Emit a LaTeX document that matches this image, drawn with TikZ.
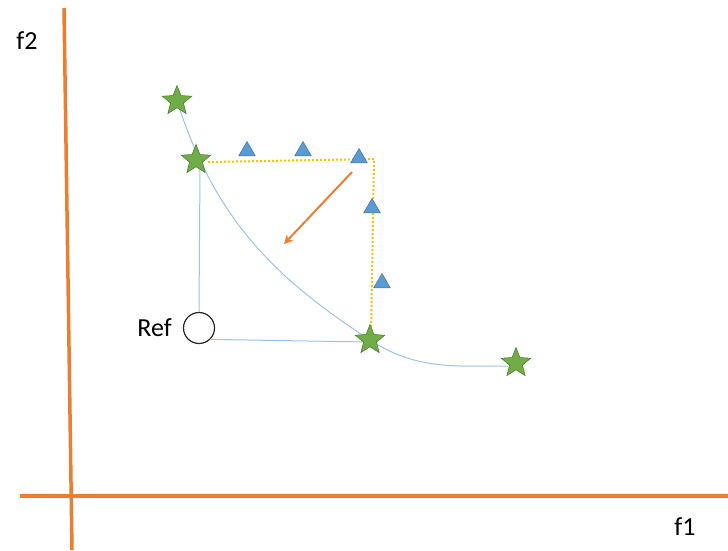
\documentclass[tikz,border=0pt]{standalone}
\usepackage{fontspec}
\setmainfont{Carlito}
\usetikzlibrary{shapes.geometric,arrows.meta}
\definecolor{axisor}{RGB}{237,125,49}
\definecolor{stargreen}{RGB}{112,173,71}
\definecolor{stardark}{RGB}{80,126,50}
\definecolor{triblue}{RGB}{91,155,213}
\definecolor{tridark}{RGB}{65,113,156}
\definecolor{curveblue}{RGB}{157,195,230}
\definecolor{dotyellow}{RGB}{255,192,0}
\tikzset{
  axis/.style={draw=axisor,line width=3.5pt},
  starnode/.style={star,star points=5,star point ratio=2.3,minimum size=31pt,inner sep=0pt,fill=stargreen,draw=stardark,line width=0.6pt},
  trinode/.style={regular polygon,regular polygon sides=3,minimum size=19pt,inner sep=0pt,fill=triblue,draw=tridark,line width=0.5pt},
  lbl/.style={font=\fontsize{26}{30}\selectfont,inner sep=0pt},
  thin/.style={draw=curveblue,line width=1pt},
  dotline/.style={draw=dotyellow,line width=2pt,dash pattern=on 2pt off 2pt},
}
\begin{document}
\begin{tikzpicture}[x=1pt,y=-1pt]
\useasboundingbox (0,0) rectangle (728,550);
% axes
\coordinate (ytop) at (64,8);
\coordinate (ybot) at (72,550);
\coordinate (xl) at (20,496);
\coordinate (xr) at (728,496);
\draw[axis] (ytop) -- (ybot);
\draw[axis] (xl) -- (xr);
\node[lbl] (f2) at (27,41) {f2};
\node[lbl] (f1) at (685,527) {f1};
% ref
\node[draw=black!85,line width=1.2pt,circle,minimum size=31pt,inner sep=0pt] (ref) at (199,328) {};
\node[lbl,anchor=east] (reflbl) at (172,328) {Ref};
% star positions
\coordinate (p1) at (177,101);
\coordinate (p2) at (196,160);
\coordinate (p3) at (370,340);
\coordinate (p4) at (516,363);
\coordinate (cend) at (508,366);
% curve
\draw[thin] (p1) to[out=-72,in=147] (p3) to[out=-33,in=180] (cend);
% blue lines
\coordinate (s2b) at (200,168);
\draw[thin] (s2b) -- (ref.north);
\coordinate (s3l) at (368,342);
\draw[thin] (ref.south east) -- (s3l);
% yellow dotted
\coordinate (y1) at (208,162);
\coordinate (y2) at (374,159);
\coordinate (y3) at (371,336);
\draw[dotline] (y1) -- (y2) -- (y3);
% stars
\node[starnode] (s1) at (p1) {};
\node[starnode] (s2) at (p2) {};
\node[starnode] (s3) at (p3) {};
\node[starnode] (s4) at (p4) {};
% triangles
\node[trinode] (t1) at (247,151) {};
\node[trinode] (t2) at (303,151) {};
\node[trinode] (t3) at (359,158) {};
\node[trinode] (t4) at (372,208) {};
\node[trinode] (t5) at (382,283) {};
% arrow
\coordinate (a1) at (352,172);
\coordinate (a2) at (284,244);
\draw[draw=axisor,line width=2pt,-{Stealth[length=9pt,width=9pt]}] (a1) -- (a2);
\end{tikzpicture}
\end{document}
